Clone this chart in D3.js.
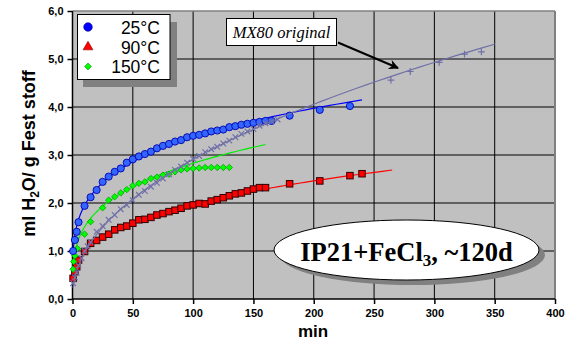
<!DOCTYPE html>
<html>
<head>
<meta charset="utf-8">
<script src="https://cdn.jsdelivr.net/npm/d3@7"></script>
<style>
  html, body { margin: 0; padding: 0; background: #fff; }
  svg { display: block; }
</style>
</head>
<body>
<svg id="chart" width="570" height="342"></svg>
<script>
// Water uptake of IP21 + FeCl3 (~120 d) at three temperatures, with MX80 reference
const xTicks = [0, 50, 100, 150, 200, 250, 300, 350, 400];
const yTicks = [0, 1, 2, 3, 4, 5, 6];
const seriesNames = ["25°C", "90°C", "150°C"];

// 25°C
const t25x = [0.5, 2, 3.5, 5, 10, 15, 20, 25, 30, 35, 40, 45, 50, 55, 60, 65, 70, 75, 80, 85, 90, 95, 100, 105, 110, 115, 120, 125, 130, 135, 140, 145, 150, 155, 160, 165, 180, 205, 230];
const t25y = [1.0, 1.23, 1.4, 1.6, 1.94, 2.12, 2.27, 2.44, 2.55, 2.65, 2.72, 2.84, 2.91, 2.97, 3.02, 3.07, 3.14, 3.19, 3.23, 3.28, 3.31, 3.37, 3.4, 3.42, 3.45, 3.49, 3.51, 3.53, 3.58, 3.6, 3.63, 3.65, 3.67, 3.69, 3.71, 3.71, 3.82, 3.94, 4.02];

// 90°C
const t90x = [0.5, 2, 3.5, 5, 10, 15, 20, 25, 30, 35, 40, 45, 50, 55, 60, 65, 70, 75, 80, 85, 90, 95, 100, 105, 110, 115, 120, 125, 130, 135, 140, 145, 150, 155, 160, 180, 205, 230, 240];
const t90y = [0.43, 0.57, 0.67, 0.81, 0.99, 1.16, 1.22, 1.29, 1.35, 1.44, 1.49, 1.52, 1.58, 1.65, 1.66, 1.7, 1.75, 1.78, 1.82, 1.85, 1.89, 1.94, 1.96, 1.99, 1.98, 2.04, 2.07, 2.11, 2.15, 2.19, 2.21, 2.25, 2.29, 2.32, 2.32, 2.4, 2.46, 2.57, 2.61];

// 150°C
const t150x = [0.5, 1, 2, 4, 10, 15, 25, 30, 35, 40, 45, 50, 55, 60, 65, 70, 75, 80, 85, 90, 95, 100, 105, 110, 115, 120, 125, 130];
const t150y = [0.62, 0.78, 0.9, 1.05, 1.35, 1.61, 1.9, 2.06, 2.13, 2.21, 2.28, 2.36, 2.41, 2.44, 2.51, 2.54, 2.58, 2.6, 2.65, 2.69, 2.71, 2.72, 2.73, 2.74, 2.74, 2.74, 2.74, 2.74];

// MX80 original
const mxEarlyX = [0.5, 2, 3.5, 5, 7.5, 10, 12.5, 15, 20, 25, 30, 35, 40, 45, 50, 55, 60, 65, 70, 75, 80, 85, 90, 95, 100, 105, 110, 115, 120, 125, 130, 135, 140, 145, 150, 155, 160, 165, 170];
const mxEarlyY = [0.33, 0.45, 0.55, 0.7, 0.85, 1.0, 1.1, 1.19, 1.4, 1.52, 1.65, 1.75, 1.87, 1.96, 2.06, 2.17, 2.25, 2.34, 2.42, 2.51, 2.6, 2.69, 2.76, 2.84, 2.92, 2.98, 3.06, 3.12, 3.17, 3.24, 3.3, 3.37, 3.44, 3.49, 3.54, 3.61, 3.66, 3.7, 3.74];
const mxLateX = [264, 280, 304, 325, 339];
const mxLateY = [4.56, 4.74, 4.93, 5.1, 5.15];

// power-law trend lines y = a * x^b (order: 25°C, 90°C, 150°C, MX80)
const trendA = [1.128, 0.466, 0.797, 0.319];
const trendB = [0.2376, 0.314, 0.275, 0.48];
const trendStart = [0.5, 0.5, 0.5, 0.5];
const trendEnd = [240, 265, 160, 350];

const svg = d3.select("#chart");
const M = { left: 72.5, right: 555, top: 11, bottom: 299 };

const x = d3.scaleLinear().domain([0, 400]).range([M.left, M.right]);
const y = d3.scaleLinear().domain([0, 6]).range([M.bottom, M.top]);

const fmtComma = d3.formatLocale({ decimal: ",", thousands: ".", grouping: [3], currency: ["", ""] }).format(".1f");

// plot background
svg.append("rect")
  .attr("x", M.left).attr("y", M.top)
  .attr("width", M.right - M.left).attr("height", M.bottom - M.top)
  .attr("fill", "#c0c0c0");

// grid
const grid = svg.append("g");
grid.selectAll("line.v").data(xTicks.slice(1, -1)).join("line")
  .attr("x1", d => x(d)).attr("x2", d => x(d))
  .attr("y1", M.top).attr("y2", M.bottom)
  .attr("stroke", "#000").attr("stroke-width", 1);
grid.selectAll("line.h").data(yTicks.slice(1, -1)).join("line")
  .attr("x1", M.left).attr("x2", M.right)
  .attr("y1", d => y(d)).attr("y2", d => y(d))
  .attr("stroke", "#000").attr("stroke-width", 1);

// frame (top and right in grey)
svg.append("line").attr("x1", M.left).attr("x2", M.right).attr("y1", M.top).attr("y2", M.top)
  .attr("stroke", "#808080").attr("stroke-width", 1.5);
svg.append("line").attr("x1", M.right).attr("x2", M.right).attr("y1", M.top).attr("y2", M.bottom)
  .attr("stroke", "#808080").attr("stroke-width", 2);

// axes
const xAxis = d3.axisBottom(x).tickValues(xTicks).tickSize(5).tickPadding(5).tickFormat(d3.format("d"));
const yAxis = d3.axisLeft(y).tickValues(yTicks).tickSize(5).tickPadding(4).tickFormat(fmtComma);

const gx = svg.append("g").attr("transform", `translate(0,${M.bottom})`).call(xAxis);
const gy = svg.append("g").attr("transform", `translate(${M.left},0)`).call(yAxis);
[gx, gy].forEach(g => {
  g.select(".domain").attr("stroke", "#000").attr("stroke-width", 1.5);
  g.selectAll(".tick line").attr("stroke", "#000").attr("stroke-width", 1.5);
  g.selectAll(".tick text")
    .attr("font-family", "Arial, 'Liberation Sans', sans-serif")
    .attr("font-weight", "bold").attr("font-size", 11).attr("fill", "#000");
});
gx.select(".domain").attr("d", `M${M.left},0H${M.right}`);
gy.select(".domain").attr("d", `M0,${M.bottom}V${M.top}`);

function trendPoints(i) {
  const x0 = trendStart[i], x1 = trendEnd[i];
  const pts = [];
  const n = 200;
  for (let k = 0; k <= n; k++) {
    const t = k / n;
    const xv = Math.exp(Math.log(x0) + t * (Math.log(x1) - Math.log(x0)));
    pts.push([xv, trendA[i] * Math.pow(xv, trendB[i])]);
  }
  return pts;
}
const line = d3.line().x(d => x(d[0])).y(d => y(d[1]));
const lineColors = ["#0000ff", "#ff0000", "#00ee00", "#7070a8"];

const plot = svg.append("g");

// trend lines for the three temperatures
[0, 1, 2].forEach(i => {
  plot.append("path")
    .attr("d", line(trendPoints(i)))
    .attr("fill", "none").attr("stroke", lineColors[i]).attr("stroke-width", 1.2);
});

// 90°C squares
const sq = 6.5;
plot.append("g").selectAll("rect").data(d3.zip(t90x, t90y)).join("rect")
  .attr("x", d => x(d[0]) - sq / 2).attr("y", d => y(d[1]) - sq / 2)
  .attr("width", sq).attr("height", sq)
  .attr("fill", "#ff0000").attr("stroke", "#300000").attr("stroke-width", 1);

// 150°C diamonds
const diamond = d3.symbol().type(d3.symbolDiamond2).size(26);
plot.append("g").selectAll("path").data(d3.zip(t150x, t150y)).join("path")
  .attr("transform", d => `translate(${x(d[0])},${y(d[1])})`)
  .attr("d", diamond)
  .attr("fill", "#00ff00").attr("stroke", "#00a000").attr("stroke-width", 0.8);

// 25°C circles
plot.append("g").selectAll("circle").data(d3.zip(t25x, t25y)).join("circle")
  .attr("cx", d => x(d[0])).attr("cy", d => y(d[1])).attr("r", 3.6)
  .attr("fill", "#3366ff").attr("stroke", "#0000b0").attr("stroke-width", 0.9);

// MX80 reference curve and crosses
plot.append("path")
  .attr("d", line(trendPoints(3)))
  .attr("fill", "none").attr("stroke", lineColors[3]).attr("stroke-width", 1.2);
const cr = 2.8;
plot.append("g").selectAll("path").data(d3.zip(mxEarlyX, mxEarlyY)).join("path")
  .attr("d", d => `M${x(d[0]) - cr},${y(d[1]) - cr}L${x(d[0]) + cr},${y(d[1]) + cr}M${x(d[0]) - cr},${y(d[1]) + cr}L${x(d[0]) + cr},${y(d[1]) - cr}`)
  .attr("stroke", "#7070a8").attr("stroke-width", 1.2).attr("fill", "none");
const cp = 3.4;
plot.append("g").selectAll("path").data(d3.zip(mxLateX, mxLateY)).join("path")
  .attr("d", d => `M${x(d[0]) - cp},${y(d[1])}L${x(d[0]) + cp},${y(d[1])}M${x(d[0])},${y(d[1]) - cp}L${x(d[0])},${y(d[1]) + cp}`)
  .attr("stroke", "#7070a8").attr("stroke-width", 1.2).attr("fill", "none");

// legend
const lg = svg.append("g");
lg.append("rect").attr("x", 83).attr("y", 22).attr("width", 94).attr("height", 65).attr("fill", "#808080");
lg.append("rect").attr("x", 77.5).attr("y", 14.5).attr("width", 92.5).attr("height", 65)
  .attr("fill", "#fff").attr("stroke", "#000").attr("stroke-width", 1);
const legY = [27, 47, 66.5];
lg.append("circle").attr("cx", 88).attr("cy", legY[0]).attr("r", 4.3).attr("fill", "#0000ff").attr("stroke", "#000080").attr("stroke-width", 0.6);
lg.append("path").attr("transform", `translate(88,${legY[1]})`)
  .attr("d", d3.symbol().type(d3.symbolTriangle).size(42))
  .attr("fill", "#ff0000").attr("stroke", "#800000").attr("stroke-width", 0.6);
lg.append("path").attr("transform", `translate(88,${legY[2]})`)
  .attr("d", d3.symbol().type(d3.symbolDiamond2).size(30))
  .attr("fill", "#00ff00").attr("stroke", "#008000").attr("stroke-width", 0.6);
lg.selectAll("text").data(seriesNames).join("text")
  .attr("x", 160).attr("y", (d, i) => legY[i] + 6.5)
  .attr("text-anchor", "end")
  .attr("font-family", "Arial, 'Liberation Sans', sans-serif").attr("font-size", 17.5)
  .attr("fill", "#000").text(d => d);

// MX80 callout
svg.append("rect").attr("x", 226.5).attr("y", 18.5).attr("width", 110).attr("height", 27)
  .attr("fill", "#fff").attr("stroke", "#000").attr("stroke-width", 1);
svg.append("text").attr("x", 281.5).attr("y", 37.5)
  .attr("text-anchor", "middle")
  .attr("font-family", "'Times New Roman', 'Liberation Serif', serif").attr("font-style", "italic")
  .attr("font-size", 16.5).attr("fill", "#000").text("MX80 original");
svg.append("defs").append("marker")
  .attr("id", "arrowhead").attr("viewBox", "0 0 10 10").attr("refX", 9).attr("refY", 5)
  .attr("markerWidth", 6).attr("markerHeight", 5).attr("orient", "auto")
  .attr("markerUnits", "strokeWidth")
  .append("path").attr("d", "M0,0L10,5L0,10L3,5Z").attr("fill", "#000");
svg.append("line").attr("x1", 338).attr("y1", 42.5).attr("x2", 398).attr("y2", 68)
  .attr("stroke", "#000").attr("stroke-width", 2).attr("marker-end", "url(#arrowhead)");

// sample label ellipse
svg.append("ellipse").attr("cx", 412.5).attr("cy", 255).attr("rx", 132.5).attr("ry", 30).attr("fill", "#808080");
svg.append("ellipse").attr("cx", 406.5).attr("cy", 250).attr("rx", 132.5).attr("ry", 30)
  .attr("fill", "#fff").attr("stroke", "#000").attr("stroke-width", 1);
const lbl = svg.append("text").attr("x", 406.5).attr("y", 261)
  .attr("text-anchor", "middle")
  .attr("font-family", "'Times New Roman', 'Liberation Serif', serif").attr("font-weight", "bold")
  .attr("font-size", 26.5).attr("fill", "#000");
lbl.append("tspan").text("IP21+FeCl");
lbl.append("tspan").attr("font-size", 17).attr("dy", 5).text("3");
lbl.append("tspan").attr("dy", -5).text(", ~120d");

// axis titles
svg.append("text").attr("x", 313).attr("y", 337)
  .attr("text-anchor", "middle")
  .attr("font-family", "Arial, 'Liberation Sans', sans-serif").attr("font-weight", "bold")
  .attr("font-size", 17).attr("fill", "#000").text("min");
const yt = svg.append("text")
  .attr("transform", "translate(35,153.5) rotate(-90)")
  .attr("text-anchor", "middle")
  .attr("font-family", "Arial, 'Liberation Sans', sans-serif").attr("font-weight", "bold")
  .attr("font-size", 18).attr("fill", "#000");
yt.append("tspan").text("ml H");
yt.append("tspan").attr("font-size", 12).attr("dy", 4).text("2");
yt.append("tspan").attr("dy", -4).text("O/ g Fest stoff");
</script>
</body>
</html>
